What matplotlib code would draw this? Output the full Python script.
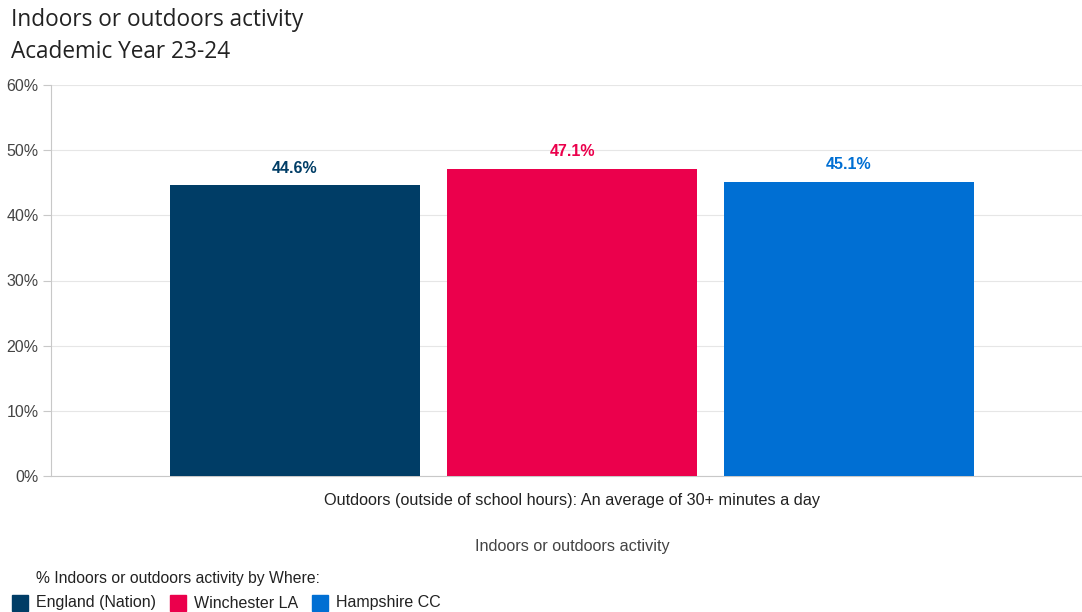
import matplotlib
matplotlib.use("Agg")
import matplotlib.pyplot as plt
from matplotlib.patches import Rectangle

series = ["England (Nation)", "Winchester LA", "Hampshire CC"]
values = [44.6, 47.1, 45.1]
colors = ["#003D66", "#EB004C", "#006FD3"]
category = "Outdoors (outside of school hours): An average of 30+ minutes a day"
yticks = [0, 10, 20, 30, 40, 50, 60]

fig = plt.figure(figsize=(10.82, 6.12), dpi=100)
ax = fig.add_axes([51/1082, 1-476/612, 1-51/1082, (476-85)/612])

pos = [-1, 0, 1]
ax.bar(pos, values, width=0.9, color=colors, zorder=3)
for p, v, c in zip(pos, values, colors):
    ax.annotate(f"{v:.1f}%", (p, v), xytext=(0, 7), textcoords="offset points",
                ha="center", va="bottom", color=c, fontsize=11.5, fontweight="bold",
                family="Liberation Sans")

ax.set_xlim(-1.881, 1.841)
ax.set_ylim(0, 60)
ax.set_yticks(yticks)
ax.set_yticklabels([f"{t}%" for t in yticks], family="Liberation Sans", fontsize=11.5, color="#444444")
ax.set_xticks([])
ax.grid(axis="y", color="#e6e6e6", linewidth=0.8, zorder=0)
for s in ["top", "right"]:
    ax.spines[s].set_visible(False)
ax.spines["left"].set_color("#c8c8c8")
ax.spines["bottom"].set_color("#c8c8c8")
ax.tick_params(axis="y", length=6, color="#c8c8c8", pad=3)

fig.text(11/1082, 1-20/612, "Indoors or outdoors activity", fontsize=16.3, family="Open Sans",
         color="#222222", va="center", ha="left")
fig.text(11/1082, 1-52/612, "Academic Year 23-24", fontsize=16.3, family="Open Sans",
         color="#222222", va="center", ha="left")

fig.text(572/1082, 1-501/612, category, fontsize=11.7, family="Liberation Sans",
         color="#222222", ha="center", va="center")
fig.text(572/1082, 1-546/612, "Indoors or outdoors activity", fontsize=11.7,
         family="Liberation Sans", color="#444444", ha="center", va="center")
fig.text(36/1082, 1-578/612, "% Indoors or outdoors activity by Where:", fontsize=11.3,
         family="Liberation Sans", color="#222222", ha="left", va="center")

xs = [12, 170, 312]
for x, lab, c in zip(xs, series, colors):
    fig.patches.append(Rectangle((x/1082, 1-611/612), 16/1082, 16/612,
                                 transform=fig.transFigure, color=c, figure=fig))
    fig.text((x+24)/1082, 1-603/612, lab, fontsize=11.5, family="Liberation Sans",
             color="#222222", ha="left", va="center")

fig.savefig("out.png", dpi=100)
